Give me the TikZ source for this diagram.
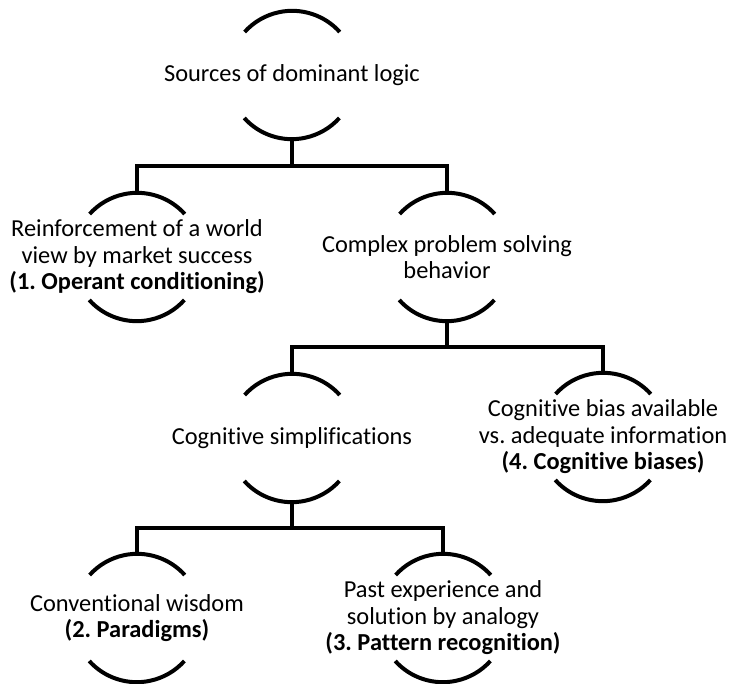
\documentclass[tikz,border=0pt]{standalone}
\usepackage{fontspec}
\setmainfont[Ligatures={NoCommon}]{Carlito}
\begin{document}
\frenchspacing
\begin{tikzpicture}[x=0.75pt,y=0.75pt,
  ring/.style={circle,minimum size=96pt,inner sep=0pt,draw=none},
  label/.style={align=center,inner sep=0pt,font=\fontsize{18.3}{19.9}\selectfont},
  arcline/.style={line width=3pt,line cap=butt},
  conn/.style={line width=3pt}]
\useasboundingbox (0,0) rectangle (729,-684);
\newcommand\brackets[1]{%
  \draw[arcline] (#1.42) arc[start angle=42,end angle=138,radius=48pt];
  \draw[arcline] (#1.222) arc[start angle=222,end angle=318,radius=48pt];}
% rings
\node[ring] (rootc) at (292,-75) {};
\node[ring] (reinc) at (137,-257) {};
\node[ring] (compc) at (447,-257) {};
\node[ring] (simpc) at (292,-438) {};
\node[ring] (biasc) at (603,-437) {};
\node[ring] (convc) at (137,-618) {};
\node[ring] (pastc) at (443,-618) {};
% labels
\node[label] (root) at (rootc) {Sources of dominant logic};
\node[label] (rein) at (reinc) {Reinforcement of a world\\view by market success\\\textbf{(1. Operant conditioning)}};
\node[label] (comp) at (compc) {Complex problem solving\\behavior};
\node[label] (simp) at (simpc) {Cognitive simplifications};
\node[label] (bias) at (biasc) {Cognitive bias available\\vs. adequate information\\\textbf{(4. Cognitive biases)}};
\node[label] (conv) at (convc) {Conventional wisdom\\\textbf{(2. Paradigms)}};
\node[label] (past) at (pastc) {Past experience and\\solution by analogy\\\textbf{(3. Pattern recognition)}};
% arcs
\brackets{rootc}\brackets{reinc}\brackets{compc}\brackets{simpc}\brackets{biasc}\brackets{convc}\brackets{pastc}
% connectors
\draw[conn] (rootc.south) -- ++(0,-27) coordinate (j1);
\draw[conn] (j1) -| (reinc.north);
\draw[conn] (j1) -| (compc.north);
\draw[conn] (compc.south) -- ++(0,-26) coordinate (j2);
\draw[conn] (j2) -| (simpc.north);
\draw[conn] (j2) -| (biasc.north);
\draw[conn] (simpc.south) -- ++(0,-26) coordinate (j3);
\draw[conn] (j3) -| (convc.north);
\draw[conn] (j3) -| (pastc.north);
\end{tikzpicture}
\end{document}
